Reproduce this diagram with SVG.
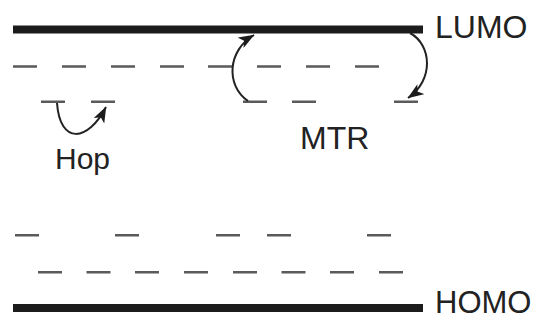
<svg xmlns="http://www.w3.org/2000/svg" width="539" height="320" viewBox="0 0 539 320">
<defs>
<style>
.bar{fill:#1c1c1c}
.dash{stroke:#5a5a5a;stroke-width:2.6;fill:none}
.arc{stroke:#222;stroke-width:2;fill:none;marker-end:url(#ah)}
.lbl{font-family:"Liberation Sans",Arial,sans-serif;font-size:32px;fill:#222}
</style>
<marker id="ah" viewBox="0 0 16 12" refX="15.5" refY="6" markerWidth="16" markerHeight="12" markerUnits="userSpaceOnUse" orient="auto">
<path d="M0,0 L16,6 L0,12 L4,6 Z" fill="#1c1c1c"/>
</marker>
</defs>
<rect width="539" height="320" fill="#fff"/>
<g id="lumo">
<rect class="bar" x="13" y="25.5" width="410" height="8"/>
<text class="lbl" x="435" y="38">LUMO</text>
</g>
<g id="homo">
<rect class="bar" x="13" y="304" width="410" height="8"/>
<text class="lbl" x="435" y="313" style="font-size:31px">HOMO</text>
</g>
<g id="traps-upper-1">
<path class="dash" d="M13,66.5h24M62,66.5h24M111,66.5h24M160,66.5h24M208,66.5h24M257,66.5h24M306,66.5h24M355,66.5h24"/>
</g>
<g id="traps-upper-2">
<path class="dash" d="M41,101.7h24M91,101.7h24M243,101.7h24M292,101.7h24M394,101.7h24"/>
</g>
<g id="traps-lower-1">
<path class="dash" d="M15,235.3h24M115,235.3h24M216,235.3h24M267,235.3h24M367,235.3h24"/>
</g>
<g id="traps-lower-2">
<path class="dash" d="M38,272.3h24M86.5,272.3h24M135,272.3h24M184,272.3h24M233,272.3h24M281.5,272.3h24M330,272.3h24M379,272.3h24"/>
</g>
<g id="hop">
<text class="lbl" x="55" y="169" style="font-size:30px">Hop</text>
</g>
<g id="mtr">
<text class="lbl" x="300" y="149">MTR</text>
</g>
<g id="connectors">
<path class="arc" d="M57,103 C60,145 88,142 106,107"/>
<path class="arc" d="M248,101 C225,85 228,50 254,35"/>
<path class="arc" d="M410,33 C432,45 434,80 408,98"/>
</g>
</svg>
